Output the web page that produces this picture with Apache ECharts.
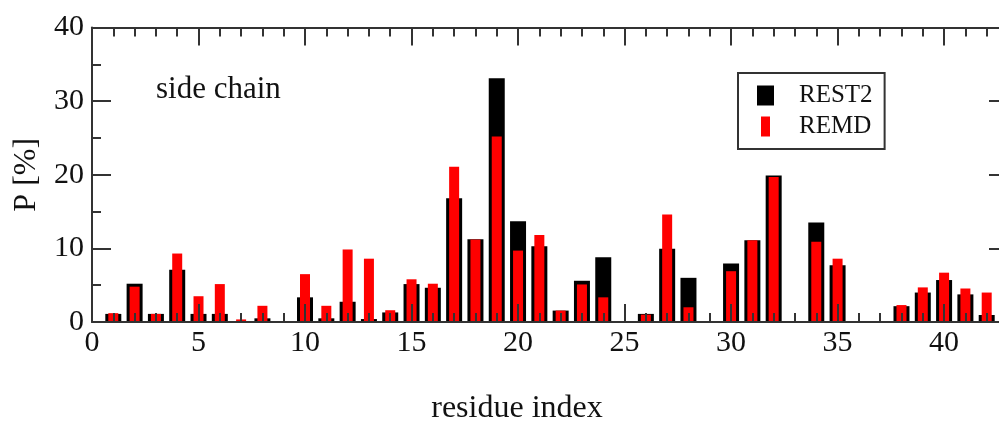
<!DOCTYPE html>
<html>
<head>
<meta charset="utf-8">
<script src="https://cdn.jsdelivr.net/npm/echarts@6/dist/echarts.min.js"></script>
<style>
  html, body { margin: 0; padding: 0; background: #ffffff; }
  #chart { width: 999px; height: 428px; }
</style>
</head>
<body>
<div id="chart"></div>
<script>
// residue index 1..42
var residues = []
for (var r = 1; r <= 42; r++) residues.push(r)

var rest2 = [1.1, 5.2, 1.1, 7.1, 1.1, 1.1, 0.1, 0.5, 0, 3.35, 0.5, 2.75, 0.4, 1.3, 5.15, 4.65, 16.8, 11.25, 33.1, 13.7, 10.3,
  1.55, 5.6, 8.8, 0, 1.1, 9.95, 6.0, 0, 7.95, 11.1, 19.9, 0, 13.5, 7.7, 0, 0, 2.15, 4.0, 5.7, 3.75, 0.95]
var remd = [1.2, 4.8, 1.1, 9.3, 3.5, 5.15, 0.35, 2.2, 0, 6.5, 2.2, 9.85, 8.6, 1.6, 5.8, 5.2, 21.1, 11.2, 25.2, 9.7, 11.8,
  1.55, 5.1, 3.35, 0, 1.0, 14.6, 2.0, 0, 6.9, 11.1, 19.7, 0, 10.9, 8.6, 0, 0, 2.3, 4.7, 6.7, 4.55, 4.0]

var xMin = 0
var xMax = 43
var yTicks = [0, 10, 20, 30, 40]

var serif = 'Liberation Serif'
var axisColor = '#333333'

function pairs(vals) {
  return residues.map(function(x, i) { return [x, vals[i]] })
}

var myChart = echarts.init(document.getElementById('chart'), null, { renderer: 'canvas' })

var baseX = {
  type: 'value',
  min: xMin,
  max: xMax,
  splitLine: { show: false },
  axisLabel: { show: false },
  axisLine: { show: true, onZero: false, lineStyle: { color: axisColor, width: 2 } }
}

var option = {
  backgroundColor: '#ffffff',
  animation: false,
  title: {
    text: 'side chain',
    left: 151,
    top: 69,
    textStyle: { fontFamily: serif, fontWeight: 'normal', fontSize: 31, color: '#111' }
  },
  legend: {
    orient: 'vertical',
    left: 738,
    top: 73,
    padding: [10, 12, 10, 19],
    borderColor: axisColor,
    borderWidth: 2,
    itemWidth: 17,
    itemHeight: 20,
    itemGap: 6,
    textStyle: { fontFamily: serif, fontSize: 25, color: '#111', lineHeight: 20, padding: [0, 0, 0, 20] },
    data: [
      { name: 'REST2', icon: 'path://M0,0H17V20H0Z' },
      { name: 'REMD', icon: 'path://M0,0H9V20H0Z' }
    ]
  },
  grid: { left: 92, top: 27.5, width: 916, height: 294.5, outerBoundsMode: 'none', containLabel: false },
  xAxis: [
    // bottom, major ticks + labels
    Object.assign({}, baseX, {
      position: 'bottom',
      interval: 5,
      z: 10,
      axisTick: { show: true, inside: true, length: 18, lineStyle: { color: axisColor, width: 2 } },
      axisLabel: { show: true, showMaxLabel: false, fontFamily: serif, fontSize: 30, color: '#111', margin: 6 },
      name: 'residue index',
      nameLocation: 'middle',
      nameGap: 71,
      nameTextStyle: { fontFamily: serif, fontSize: 32, color: '#111', padding: [0, 66, 0, 0] }
    }),
    // bottom, minor ticks every residue
    Object.assign({}, baseX, {
      position: 'bottom',
      interval: 1,
      z: 10,
      axisLine: { show: false, onZero: false },
      axisTick: { show: true, inside: true, length: 9, lineStyle: { color: axisColor, width: 2 } }
    }),
    // top, major
    Object.assign({}, baseX, {
      position: 'top',
      interval: 5,
      axisTick: { show: true, inside: true, length: 18, lineStyle: { color: axisColor, width: 2 } }
    }),
    // top, minor
    Object.assign({}, baseX, {
      position: 'top',
      interval: 1,
      axisLine: { show: false, onZero: false },
      axisTick: { show: true, inside: true, length: 9, lineStyle: { color: axisColor, width: 2 } }
    })
  ],
  yAxis: [
    {
      type: 'value',
      position: 'left',
      min: yTicks[0],
      max: yTicks[yTicks.length - 1],
      interval: 10,
      splitLine: { show: false },
      axisLine: { show: true, onZero: false, lineStyle: { color: axisColor, width: 2 } },
      axisTick: { show: true, inside: true, length: 19, lineStyle: { color: axisColor, width: 2 } },
      minorTick: { show: true, splitNumber: 2, length: 9, lineStyle: { color: axisColor, width: 2 } },
      axisLabel: { fontFamily: serif, fontSize: 30, color: '#111', margin: 8 },
      name: 'P [%]',
      nameLocation: 'middle',
      nameGap: 49,
      nameTextStyle: { fontFamily: serif, fontSize: 32, color: '#111' }
    },
    {
      type: 'value',
      position: 'right',
      min: yTicks[0],
      max: yTicks[yTicks.length - 1],
      interval: 10,
      splitLine: { show: false },
      axisLabel: { show: false },
      axisLine: { show: true, onZero: false, lineStyle: { color: axisColor, width: 2 } },
      axisTick: { show: true, inside: true, length: 19, lineStyle: { color: axisColor, width: 2 } },
      minorTick: { show: true, splitNumber: 2, length: 9, lineStyle: { color: axisColor, width: 2 } }
    }
  ],
  series: [
    {
      name: 'REST2',
      type: 'bar',
      xAxisIndex: 0,
      yAxisIndex: 0,
      barWidth: 16,
      itemStyle: { color: '#000000' },
      data: pairs(rest2)
    },
    {
      name: 'REMD',
      type: 'bar',
      xAxisIndex: 1,
      yAxisIndex: 0,
      barWidth: 10,
      itemStyle: { color: '#ff0000' },
      data: pairs(remd)
    }
  ]
}

myChart.setOption(option, true)
window.addEventListener('resize', () => {
  myChart.resize()
})
</script>
</body>
</html>
